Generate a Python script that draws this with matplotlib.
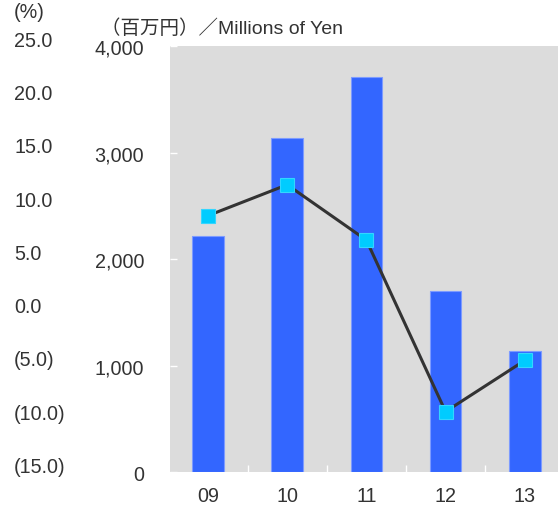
import matplotlib
matplotlib.use("Agg")
import matplotlib.pyplot as plt
import matplotlib.transforms as mtransforms
from matplotlib.ticker import FixedLocator

categories = ["09", "10", "11", "12", "13"]
sales = [2216, 3136, 3712, 1700, 1142]           # 百万円
ratio = [9.1, 12.0, 6.8, -9.3, -4.5]             # %
money_ticks = [0, 1000, 2000, 3000, 4000]
pct_ticks = [25.0, 20.0, 15.0, 10.0, 5.0, 0.0, -5.0, -10.0, -15.0]

plt.rcParams['font.family'] = ['Liberation Sans', 'Noto Sans CJK JP', 'DejaVu Sans']
txt = '#333333'
fs = 14.2

fig = plt.figure(figsize=(5.58, 5.06), dpi=100)
ax = fig.add_axes([170/558, 32.7/506, 1 - 170/558, 426/506])
ax.set_facecolor('#dcdcdc')
for s in ax.spines.values():
    s.set_visible(False)

x = list(range(len(categories)))
ax.bar(x, sales, width=0.40, color='#3366ff', edgecolor='#7d9bff', linewidth=0.8, zorder=2)
ax.set_xlim(-0.48, 4.42)
ax.set_ylim(0, 4000)
ax.set_yticks(money_ticks)
ax.set_yticklabels([f"{v:,}" for v in money_ticks])
ax.tick_params(axis='y', direction='in', length=5, width=1, color='white',
               labelsize=fs, labelcolor=txt, pad=18.5)
ax.set_xticks(x)
ax.set_xticklabels(categories)
ax.tick_params(axis='x', which='major', length=0, labelsize=fs, labelcolor=txt, pad=10)
ax.xaxis.set_minor_locator(FixedLocator([0.5, 1.5, 2.5, 3.5]))
ax.tick_params(axis='x', which='minor', direction='in', length=5, width=1, color='white')

ax2 = ax.twinx()
ax2.set_ylim(-15, 25)
ax2.set_yticks([])
for s in ax2.spines.values():
    s.set_visible(False)
ax2.plot(x, ratio, color='#333333', linewidth=2.2, marker='s', markersize=10.5,
         markerfacecolor='#00ccff', markeredgecolor='#33d6ff', markeredgewidth=0.8, zorder=3)

trans = mtransforms.blended_transform_factory(fig.transFigure, ax2.transData) + \
    mtransforms.ScaledTranslation(0, 6.0/100, fig.dpi_scale_trans)
for p in pct_ticks:
    lab = f"{p:.1f}" if p >= 0 else f"({-p:.1f})"
    ax2.text(14/558, p, lab, transform=trans, ha='left', va='center',
             fontsize=fs, color=txt, clip_on=False)

fig.text(14/558, 1 - 13/506, "(%)", ha='left', va='center', fontsize=fs, color=txt)
fig.text(101/558, 1 - 28.5/506, "（百万円）／Millions of Yen", ha='left', va='center',
         fontsize=14, color=txt)

fig.savefig("out.png", dpi=100)
